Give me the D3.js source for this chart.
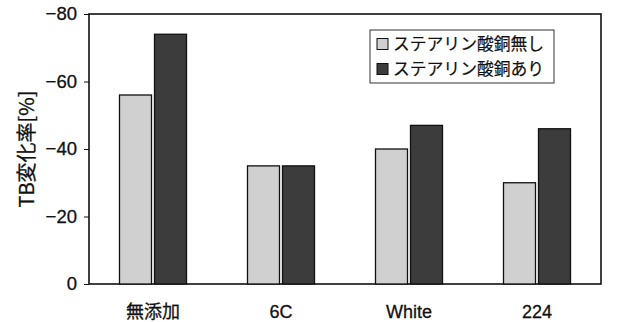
<!DOCTYPE html>
<html><head><meta charset="utf-8">
<script src="https://cdn.jsdelivr.net/npm/d3@7"></script>
<style>
body{margin:0;background:#fff;}
text{font-family:"Liberation Sans",Arial,"Noto Sans CJK JP",sans-serif;fill:#111;}
.cjk{font-family:"Noto Sans CJK JP","Liberation Sans",sans-serif;}
</style></head>
<body><svg id="chart" width="617" height="322"></svg>
<script>
const categories = ["無添加", "6C", "White", "224"];
const seriesNames = ["ステアリン酸銅無し", "ステアリン酸銅あり"];
const withoutCopper = [-56, -35, -40, -30];
const withCopper = [-74, -35, -47, -46];
const yTicks = [0, -20, -40, -60, -80];
const yTitle = "TB変化率[%]";

const colors = ["#d0d0d0", "#3c3c3c"];
const svg = d3.select("#chart");
const m = {left: 89, right: 16, top: 14, bottom: 38};
const W = 617, H = 322;

const x = d3.scaleBand().domain(categories).range([m.left, W - m.right]);
const y = d3.scaleLinear().domain([0, -80]).range([H - m.bottom, m.top]);

// plot frame
svg.append("rect").attr("x", m.left).attr("y", m.top)
  .attr("width", W - m.left - m.right).attr("height", H - m.top - m.bottom)
  .attr("fill", "none").attr("stroke", "#111").attr("stroke-width", 1.6);

// bars
const barW = 32, gap = 3;
const series = [withoutCopper, withCopper];
series.forEach((vals, si) => {
  svg.append("g").selectAll("rect").data(vals).join("rect")
    .attr("x", (d, i) => x(categories[i]) + x.bandwidth() / 2 + (si === 0 ? -gap / 2 - barW : gap / 2))
    .attr("y", d => y(d))
    .attr("width", barW)
    .attr("height", d => y(0) - y(d))
    .attr("fill", colors[si])
    .attr("stroke", "#111").attr("stroke-width", 1.3);
});

// y axis
const yAxis = d3.axisLeft(y).tickValues(yTicks).tickSize(5).tickPadding(7);
const ga = svg.append("g").attr("transform", `translate(${m.left},0)`).call(yAxis);
ga.select(".domain").remove();
ga.selectAll("line").attr("stroke", "#111");
ga.selectAll("text").style("font-size", "18.5px").attr("fill", "#111")
  .attr("stroke", "#111").attr("stroke-width", 0.3);

// x labels
const gx = svg.append("g").attr("transform", `translate(0,${H - m.bottom})`)
  .call(d3.axisBottom(x).tickSize(0).tickPadding(21));
gx.select(".domain").remove();
gx.selectAll("text").style("font-size", "18px").attr("fill", "#111")
  .attr("stroke", "#111").attr("stroke-width", 0.3)
  .attr("class", d => /[^\x00-\x7f]/.test(d) ? "cjk" : null);

// y title
svg.append("text").attr("class", "cjk")
  .attr("transform", `translate(27,${(m.top + H - m.bottom) / 2}) rotate(-90)`)
  .attr("text-anchor", "middle").attr("dy", "0.35em").style("font-size", "20px")
  .attr("stroke", "#111").attr("stroke-width", 0.3).text(yTitle);

// legend
const lg = svg.append("g");
lg.append("rect").attr("x", 370).attr("y", 30).attr("width", 184).attr("height", 53)
  .attr("fill", "#fff").attr("stroke", "#333").attr("stroke-width", 1);
seriesNames.forEach((name, i) => {
  const cy = 44 + i * 25;
  lg.append("rect").attr("x", 377).attr("y", cy - 5.5).attr("width", 11).attr("height", 11)
    .attr("fill", colors[i]).attr("stroke", "#111");
  lg.append("text").attr("class", "cjk").attr("x", 393).attr("y", cy).attr("dy", "0.36em")
    .style("font-size", "16.8px").attr("stroke", "#111").attr("stroke-width", 0.2).text(name);
});
</script></body></html>
